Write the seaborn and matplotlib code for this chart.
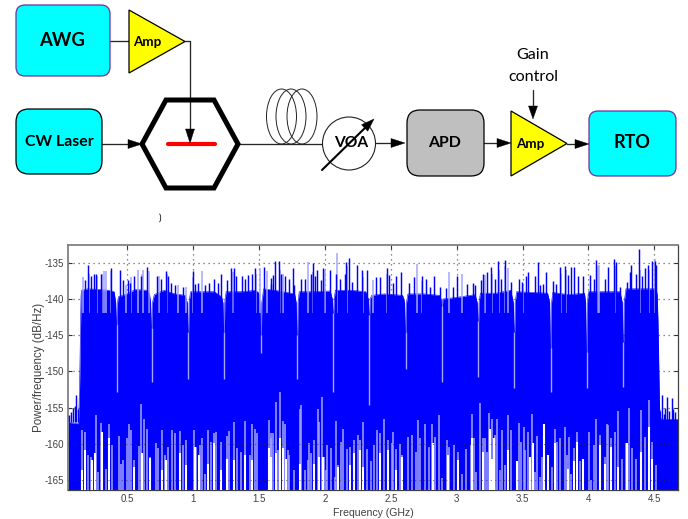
import matplotlib
matplotlib.use("Agg")
import matplotlib.pyplot as plt
from matplotlib.patches import Circle, Ellipse, FancyBboxPatch, Polygon
import seaborn as sns

sns.set_style("white")
plt.rcParams['font.family'] = ['Liberation Sans', 'DejaVu Sans']

# --- spectrum values (GHz, dB/Hz) ---
x_ticks = [0.5, 1, 1.5, 2, 2.5, 3, 3.5, 4, 4.5]
x_labels = ['0.5', '1', '1.5', '2', '2.5', '3', '3.5', '4', '4.5']
y_ticks = [-135, -140, -145, -150, -155, -160, -165]
y_labels = ['-135', '-140', '-145', '-150', '-155', '-160', '-165']

# solid body of the trace, with the dips between the bands
core_freq = [0.05, 0.13, 0.138, 0.144, 0.149, 0.153, 0.20, 0.30, 0.36, 0.40,
             0.412, 0.417, 0.423, 0.426, 0.432, 0.50, 0.56, 0.65, 0.668,
             0.677, 0.682, 0.688, 0.691, 0.705, 0.78, 0.86, 0.94,
             0.955, 0.960, 0.966, 0.969, 0.98, 1.07, 1.16, 1.215,
             1.226, 1.231, 1.237, 1.240, 1.25, 1.38, 1.47, 1.495,
             1.507, 1.512, 1.518, 1.521, 1.535, 1.65, 1.77,
             1.782, 1.787, 1.793, 1.796, 1.805, 1.93, 2.04,
             2.056, 2.061, 2.067, 2.070, 2.08, 2.20, 2.31,
             2.329, 2.334, 2.340, 2.343, 2.355, 2.45, 2.59,
             2.605, 2.610, 2.616, 2.619, 2.63, 2.75, 2.87,
             2.881, 2.886, 2.892, 2.895, 2.905, 3.03, 3.14,
             3.156, 3.161, 3.167, 3.170, 3.18, 3.30, 3.41,
             3.430, 3.435, 3.441, 3.444, 3.455, 3.58, 3.69,
             3.706, 3.711, 3.717, 3.720, 3.73, 3.85, 3.97,
             3.979, 3.984, 3.990, 3.993, 4.00, 4.12, 4.24,
             4.257, 4.262, 4.268, 4.271, 4.285, 4.40, 4.515,
             4.522, 4.528, 4.535, 4.54, 4.55, 4.68]
core_db = [-157.0, -157.2, -152, -145, -139.5, -138.8, -138.6, -138.7, -138.8, -139,
           -140.5, -143.4, -143.4, -140.5, -139.7, -139.3, -138.7, -138.8, -139.3,
           -140.5, -144, -144, -140.5, -139.4, -138.8, -139.3, -139.5,
           -140.5, -144.5, -144.5, -140.5, -139, -139, -139, -139.7,
           -140.5, -144.5, -144.5, -140.5, -139, -139, -138.8, -139.1,
           -140.5, -145, -145, -140.5, -138.6, -138.9, -139.3,
           -140.5, -145, -145, -140.5, -139, -139, -138.9,
           -140, -142, -142, -140, -138.8, -138.8, -139,
           -140, -142.2, -142.2, -140, -139.5, -139.3, -139.5,
           -140.5, -144.5, -144.5, -140.5, -139.3, -139.3, -139.5,
           -140, -141, -141, -140, -140, -139.7, -139.4,
           -140.5, -143.1, -143.1, -140.5, -139.2, -139.2, -138.8,
           -140.5, -144.5, -144.5, -140.5, -139, -139.1, -139.2,
           -140.5, -146.8, -146.8, -140.5, -139.1, -139.4, -139.2,
           -140.5, -147.3, -147.3, -140.5, -139, -139, -139,
           -140.5, -145.9, -145.9, -140.5, -138.6, -138.6, -138.6,
           -139.5, -143, -150, -155, -156.6, -156.6]

# pale tails under the dips
dip_freq = [0.42, 0.685, 0.963, 1.234, 1.515, 1.79, 2.064, 2.337, 2.613, 2.889,
            3.164, 3.438, 3.714, 3.987, 4.265]
dip_top = [-143.4, -144, -144.5, -144.5, -145, -145, -142, -142.2, -144.5, -141,
           -143.1, -144.5, -146.8, -147.3, -145.9]
dip_bottom = [-152.8, -151.4, -151, -151, -147.5, -151, -152.8, -154.6, -149.6, -151.4,
              -150.7, -152.3, -152.8, -152.3, -152.1]

# saturated peaks above the body
peak_freq = [0.06, 0.075, 0.086, 0.10, 0.113, 0.125, 0.182, 0.202, 0.227, 0.247, 0.265, 0.303,
             0.374, 0.442, 0.467, 0.505, 0.521, 0.548, 0.602, 0.652, 0.723, 0.758,
             0.796, 0.809, 0.834, 0.860, 0.923, 0.999, 1.017, 1.037, 1.087, 1.118,
             1.158, 1.189, 1.214, 1.259, 1.290, 1.307, 1.328, 1.373, 1.390, 1.416,
             1.449, 1.472, 1.535, 1.593, 1.591, 1.608, 1.623, 1.654, 1.666, 1.699,
             1.725, 1.755, 1.765, 1.816, 1.849, 1.892, 1.907, 1.925, 1.942, 1.968,
             1.988, 2.038, 2.081, 2.114, 2.152, 2.160, 2.183, 2.208, 2.246, 2.279,
             2.317, 2.388, 2.418, 2.469, 2.489, 2.514, 2.539, 2.575, 2.641, 2.676,
             2.734, 2.765, 2.797, 2.830, 2.873, 2.919, 2.969, 3.000, 3.076, 3.126,
             3.137, 3.187, 3.200, 3.230, 3.263, 3.288, 3.314, 3.339, 3.364, 3.415,
             3.471, 3.496, 3.529, 3.541, 3.592, 3.617, 3.630, 3.655, 3.681, 3.731,
             3.757, 3.782, 3.820, 3.845, 3.870, 3.891, 3.921, 3.959, 4.010, 4.040,
             4.060, 4.123, 4.149, 4.192, 4.207, 4.237, 4.293, 4.313, 4.326, 4.364,
             4.384, 4.407, 4.427, 4.452, 4.485, 4.503, 4.516, 4.545, 4.556, 4.57,
             4.583, 4.595, 4.61, 4.632, 4.645, 4.66]
peak_db = [-156, -155.6, -155.1, -154.8, -153.2, -155.2, -137.4, -135.3, -136.9, -136.5, -136.5, -136.5,
           -135.8, -136, -137.4, -137.4, -137.85, -136.8, -136.9, -135.6, -136.8, -137.2,
           -136.15, -136.8, -137.85, -138.1, -138.3, -136.15, -138, -137.85, -138.1, -137.85,
           -137.2, -137.85, -136.5, -137.4, -135.8, -135.8, -136.9, -136.9, -137.2, -136.7,
           -136.6, -135.8, -135.6, -137.1, -138, -136.7, -134.8, -134.8, -136.5, -136.8,
           -137.2, -135.8, -138.1, -137.2, -137.2, -136.5, -135.1, -136.9, -136, -137.4,
           -135.8, -136, -136.5, -137.2, -136.5, -134.9, -134.3, -137.6, -135.3, -136,
           -136, -137, -137, -135.7, -136.7, -137.85, -136.8, -136.25, -137.85, -137,
           -136.9, -137.2, -138.3, -136.9, -138.3, -138.5, -138.3, -136.9, -138, -137.85,
           -138.1, -137.4, -136.5, -136.25, -135.55, -137.2, -134.8, -137.2, -134.6, -137.6,
           -137.2, -137.6, -136.8, -136.3, -136.9, -134.9, -138.1, -138, -136.3, -137.5,
           -138, -135.55, -135.4, -136.7, -135.55, -135.55, -136.9, -136.9, -136.7, -137.2,
           -134.6, -137.2, -135.55, -134.5, -134.9, -138.3, -137.6, -136.25, -135.3, -136.5,
           -133.1, -136.8, -135.8, -135.3, -134.8, -134.8, -135.3, -155.5, -153.3, -155.8,
           -155, -153.5, -155.5, -153.7, -155.2, -155.6]

# washed out peaks (anti-aliased in the screenshot)
pale_freq = [0.164, 0.21, 0.27, 0.31, 0.323, 0.341, 0.38, 0.493, 0.53, 0.581, 0.61, 0.619, 0.665, 0.738,
             0.80, 0.885, 0.948, 1.00, 1.067, 1.30, 1.48, 1.505, 1.563, 1.66, 1.684, 1.869, 1.91,
             2.003, 2.089, 2.17, 2.29, 2.367, 2.47, 2.696, 2.74, 2.939,
             3.038, 3.213, 3.27, 3.32, 3.37, 3.390, 3.50, 3.79, 3.83, 4.07, 4.080, 4.21,
             4.39, 4.46, 4.503]
pale_db = [-137, -136.5, -136.8, -136.6, -136.2, -136.2, -136.2, -138.1, -137, -136, -136.6, -136, -136.2, -136.8,
           -136.6, -138.1, -138.3, -137, -136.15, -136.3, -136.6, -135.8, -136.2, -136, -136.5, -134.9, -136.3,
           -136, -133.6, -135.5, -137, -137.4, -136.6, -135.2, -137.5, -136.3,
           -136.5, -136.7, -136.5, -136, -135.5, -135.8, -138, -136.5, -136, -135.5, -135.3, -135.5,
           -136, -136, -134.5]

# pale slits rising from the bottom of the trace
slit_freq = [0.156, 0.182, 0.202, 0.227, 0.260, 0.278, 0.303, 0.336, 0.359, 0.384, 0.435,
             0.455, 0.467, 0.500, 0.516, 0.531, 0.548, 0.589, 0.607, 0.624, 0.647, 0.670,
             0.720, 0.733, 0.766, 0.789, 0.809, 0.839, 0.860, 0.903, 0.923, 0.946, 1.004,
             1.024, 1.049, 1.067, 1.087, 1.113, 1.133, 1.158, 1.176, 1.214, 1.259, 1.269,
             1.310, 1.335, 1.366, 1.396, 1.429, 1.447, 1.467, 1.485, 1.576, 1.593,
             1.591, 1.608, 1.629, 1.646, 1.661, 1.684, 1.694, 1.722, 1.730, 1.768, 1.811,
             1.821, 1.851, 1.869, 1.882, 1.897, 1.917, 1.950, 1.957, 1.978, 1.990, 2.008,
             2.018, 2.046, 2.076, 2.086, 2.102, 2.122, 2.140, 2.165, 2.190, 2.221, 2.253,
             2.266, 2.289, 2.322, 2.347, 2.375, 2.398, 2.418, 2.446, 2.479, 2.511, 2.519,
             2.539, 2.570, 2.587, 2.633, 2.658, 2.691, 2.709, 2.724, 2.759, 2.787, 2.815,
             2.835, 2.866, 2.886, 2.924, 2.939, 2.980, 3.012, 3.038, 3.068, 3.106, 3.119,
             3.129, 3.144, 3.180, 3.200, 3.215, 3.230, 3.245, 3.271, 3.288, 3.306, 3.326,
             3.347, 3.364, 3.390, 3.415, 3.458, 3.471, 3.486, 3.509, 3.521, 3.544, 3.559,
             3.574, 3.592, 3.610, 3.630, 3.650, 3.665, 3.696, 3.726, 3.749, 3.764, 3.787,
             3.825, 3.837, 3.855, 3.870, 3.891, 3.916, 3.939, 3.959, 4.007, 4.022, 4.040,
             4.058, 4.090, 4.123, 4.139, 4.151, 4.169, 4.204, 4.222, 4.252, 4.288, 4.308,
             4.331, 4.364, 4.402, 4.427, 4.457, 4.485, 4.513]
slit_db = [-158.0, -158.3, -161.5, -161.8, -156.0, -163.8, -157.1, -163.4, -157.3, -160.1, -158.9,
           -162.7, -162.2, -159.2, -157.2, -158.1, -162.2, -160.3, -154.5, -156.5, -157.9, -161.8,
           -159.8, -160.6, -158.0, -161.5, -160.4, -158.1, -158.5, -158.2, -160.1, -159.5, -158.0,
           -160.4, -160.1, -159.2, -164.1, -158.0, -159.7, -158.5, -158.3, -159.7, -158.9, -158.2,
           -156.9, -160.6, -161.1, -156.8, -161.5, -157.2, -157.9, -158.5, -156.7, -158.5,
           -159.2, -158.5, -154.2, -160.8, -152.8, -156.8, -157.2, -160.8, -161.5, -163.6, -155.2,
           -154.6, -163.6, -162.2, -159.9, -161.3, -159.5, -155.2, -156.9, -153.5, -161.8, -163.6,
           -160.1, -160.6, -164.5, -156.8, -162.9, -159.7, -157.9, -160.7, -160.4, -159.5, -158.8,
           -159.4, -156.9, -160.7, -162.4, -160.1, -158.0, -158.5, -156.5, -159.4, -159.9, -158.4,
           -160.7, -160.0, -161.5, -159.1, -158.8, -161.1, -156.7, -159.2, -157.2, -160.4, -157.2,
           -159.0, -156.0, -164.7, -159.4, -160.4, -160.1, -161.1, -164.1, -160.7, -160.1, -155.8,
           -159.2, -163.8, -154.4, -159.2, -159.2, -161.1, -155.7, -156.6, -158.8, -156.5, -163.6,
           -158.0, -162.9, -156.0, -158.1, -162.4, -157.1, -159.7, -157.7, -160.8, -158.3, -161.8,
           -155.9, -163.8, -158.9, -164.5, -161.8, -157.2, -161.5, -163.1, -157.9, -159.7, -159.2,
           -157.6, -161.5, -159.1, -164.1, -160.6, -158.3, -162.4, -162.0, -158.3, -165.0, -160.1,
           -156.5, -158.8, -161.8, -157.2, -157.4, -159.2, -158.3, -155.5, -162.0, -159.9, -155.1,
           -160.6, -162.0, -155.3, -159.0, -153.9, -159.7, -162.9]

# fully white part of the slits
gap_freq = [0.156, 0.182, 0.232, 0.257, 0.308, 0.359, 0.548, 0.612, 0.672, 0.766, 0.791, 0.903,
            0.946, 1.011, 1.044, 1.113, 1.158, 1.214, 1.259, 1.310, 1.396, 1.447, 1.576,
            1.591, 1.629, 1.661, 1.684, 1.704, 1.811, 1.917, 1.957, 1.983, 2.102, 2.190,
            2.221, 2.266, 2.286, 2.418, 2.481, 2.539, 2.582, 2.823, 2.932, 3.012, 3.119,
            3.200, 3.250, 3.271, 3.283, 3.390, 3.458, 3.559, 3.579, 3.665, 3.696, 3.749,
            3.845, 3.891, 3.913, 3.959, 4.090, 4.123, 4.169, 4.222, 4.293, 4.402, 4.457, 4.485]
gap_db = [-163.6, -160.8, -162.2, -161.3, -158.3, -159.2, -163.1, -161.3, -161.9, -163.6, -162.2, -161.3,
          -162.9, -160.4, -161.5, -162.7, -159.9, -163.6, -162.1, -162.2, -161.5, -162.2, -160.6,
          -161.8, -161.3, -159.2, -160.6, -162, -162.7, -162.7, -161.8, -161.8, -163.1, -162.9,
          -161.3, -160.8, -163.1, -161.3, -160.8, -163.6, -161.8, -159.9, -161.5, -162.2, -159.2,
          -161.1, -157.9, -162, -159.2, -160.8, -162.4, -161.8, -159.9, -157.2, -161.5, -159.9,
          -163.4, -162.4, -159.7, -162, -160.1, -162.7, -160.4, -163.1, -159.9, -161.1, -157.6, -162]

X_MIN, X_MAX = 0.05, 4.68
Y_MIN, Y_MAX = -166.34, -132.56
W, H = 688, 519
BLUE = '#0000ff'
PALE = '#a4a4ff'
DARK = '#262626'
DOTS = (0, (1, 3))

fig = plt.figure(figsize=(W / 100, H / 100), dpi=100)

# --- spectrum panel ---
ax = fig.add_axes([68 / W, 1 - 490 / H, 610 / W, 245 / H])
ax.set_xlim(X_MIN, X_MAX)
ax.set_ylim(Y_MIN, Y_MAX)
ax.grid(True, linestyle=DOTS, color='#666666', linewidth=0.9, zorder=0)
ax.set_axisbelow(True)

sns.lineplot(x=core_freq, y=core_db, ax=ax, sort=False, estimator=None,
             color=BLUE, linewidth=0.4, zorder=2)
ax.fill_between(core_freq, Y_MIN, core_db, color=BLUE, linewidth=0, zorder=2)
ax.vlines(pale_freq, -142, pale_db, color=PALE, linewidth=1.1, zorder=2)
ax.vlines(peak_freq, -157, peak_db, color=BLUE, linewidth=1.05, zorder=3)
ax.vlines(dip_freq, dip_bottom, dip_top, color=PALE, linewidth=1.0, zorder=3)
ax.vlines(slit_freq, Y_MIN, slit_db, color=PALE, linewidth=1.1, zorder=3)
ax.vlines(gap_freq, Y_MIN, gap_db, color='white', linewidth=1.5, zorder=4)
for level in y_ticks[-2:]:
    ax.axhline(level, linestyle=DOTS, color='#333333', linewidth=0.8, alpha=0.6, zorder=5)

ax.set_xticks(x_ticks, x_labels)
ax.set_yticks(y_ticks, y_labels)
ax.tick_params(direction='in', length=3, width=0.8, color='#333333',
               labelcolor='#404040', labelsize=7, pad=3, left=True, bottom=True,
               top=True, right=True)
ax.set_xlabel('Frequency (GHz)', fontsize=7.6, color='#404040', labelpad=3)
ax.set_ylabel('Power/frequency (dB/Hz)', fontsize=8.3, color='#404040', labelpad=-0.5)
for side, col, lw in [('top', '#808080', 1.3), ('left', '#808080', 1.3),
                      ('bottom', '#404040', 0.9), ('right', '#404040', 0.9)]:
    ax.spines[side].set_color(col)
    ax.spines[side].set_linewidth(lw)

# --- block diagram, drawn in pixel coordinates of the picture ---
dg = fig.add_axes([0, 0, 1, 1], facecolor='none')
dg.set_xlim(0, W)
dg.set_ylim(H, 0)
dg.axis('off')


def box(x0, y0, x1, y1, face, edge, radius):
    dg.add_patch(FancyBboxPatch((x0 + radius, y0 + radius), x1 - x0 - 2 * radius, y1 - y0 - 2 * radius,
                                boxstyle=f'round,pad={radius},rounding_size={radius}',
                                facecolor=face, edgecolor=edge, linewidth=0.9, zorder=3))


def label(x, y, text, size, weight='bold'):
    dg.text(x, y, text, fontsize=size, fontweight=weight, family='Lato',
            ha='center', va='center', color='black', zorder=6)


def wire(points):
    xs, ys = zip(*points)
    dg.plot(xs, ys, color=DARK, linewidth=0.95, zorder=2)


def head(x, y, dx, dy, length=14, half=4.5):
    # filled arrow head with its tip at x, y
    px, py = -dy, dx
    dg.add_patch(Polygon([(x, y), (x - dx * length + px * half, y - dy * length + py * half),
                          (x - dx * length - px * half, y - dy * length - py * half)],
                         closed=True, facecolor='black', edgecolor='black', linewidth=0.3, zorder=5))


def amp(x0, y0, y1, tip, text_x):
    dg.add_patch(Polygon([(x0, y0), (x0, y1), (tip, (y0 + y1) / 2)], closed=True,
                         facecolor='#ffff00', edgecolor='black', linewidth=0.9, zorder=3))
    label(text_x, (y0 + y1) / 2, 'Amp', 9.6)


box(16, 5, 110, 76, '#00ffff', '#7030a0', 9)
label(62, 41, 'AWG', 13.3)
box(16, 109, 102, 174, '#00ffff', 'black', 13)
label(59, 142, 'CW Laser', 11.4)
box(407, 110, 484, 176, '#bfbfbf', 'black', 13)
label(445, 143, 'APD', 11.4)
box(589, 111, 676, 176, '#00ffff', '#7030a0', 9)
label(632, 143, 'RTO', 13)

wire([(110, 41), (129, 41)])
amp(129, 10, 73, 185, 147.5)
wire([(185, 41), (190, 41), (190, 140)])
head(190, 143, 0, 1)

wire([(102, 144), (135, 144)])
head(142, 144, 1, 0)
dg.add_patch(Polygon([(166, 100), (214, 100), (238, 144), (214, 188), (166, 188), (142, 144)],
                     closed=True, facecolor='none', edgecolor='black', linewidth=3.6,
                     joinstyle='miter', zorder=3))
dg.plot([168, 215], [144, 144], color='#ff0000', linewidth=3, solid_capstyle='round', zorder=4)

wire([(239, 144), (323, 144)])
for cx in [281.5, 291, 302]:
    dg.add_patch(Ellipse((cx, 116.5), 30, 55, facecolor='none', edgecolor='#222222', linewidth=0.7, zorder=3))

dg.add_patch(Circle((349, 143.5), 26.5, facecolor='white', edgecolor='#222222', linewidth=0.8, zorder=3))
label(351, 143, 'VOA', 11.2)
dg.plot([322, 368], [170, 125], color='black', linewidth=1.5, zorder=7)
head(374, 119, 0.72, -0.69, length=13, half=4.5)

wire([(375, 143), (398, 143)])
head(405, 143, 1, 0)
wire([(484, 143), (503, 143)])
head(511, 143, 1, 0)
amp(511, 111, 176, 567, 530)
wire([(567, 144), (580, 144)])
head(589, 144, 1, 0)

label(533, 55, 'Gain', 11.6, weight='normal')
label(533, 77, 'control', 11.6, weight='normal')
wire([(533, 90), (533, 112)])
head(533, 119, 0, 1, length=13)
label(160, 218, ')', 7, weight='normal')

fig.savefig('out.png', dpi=100)
